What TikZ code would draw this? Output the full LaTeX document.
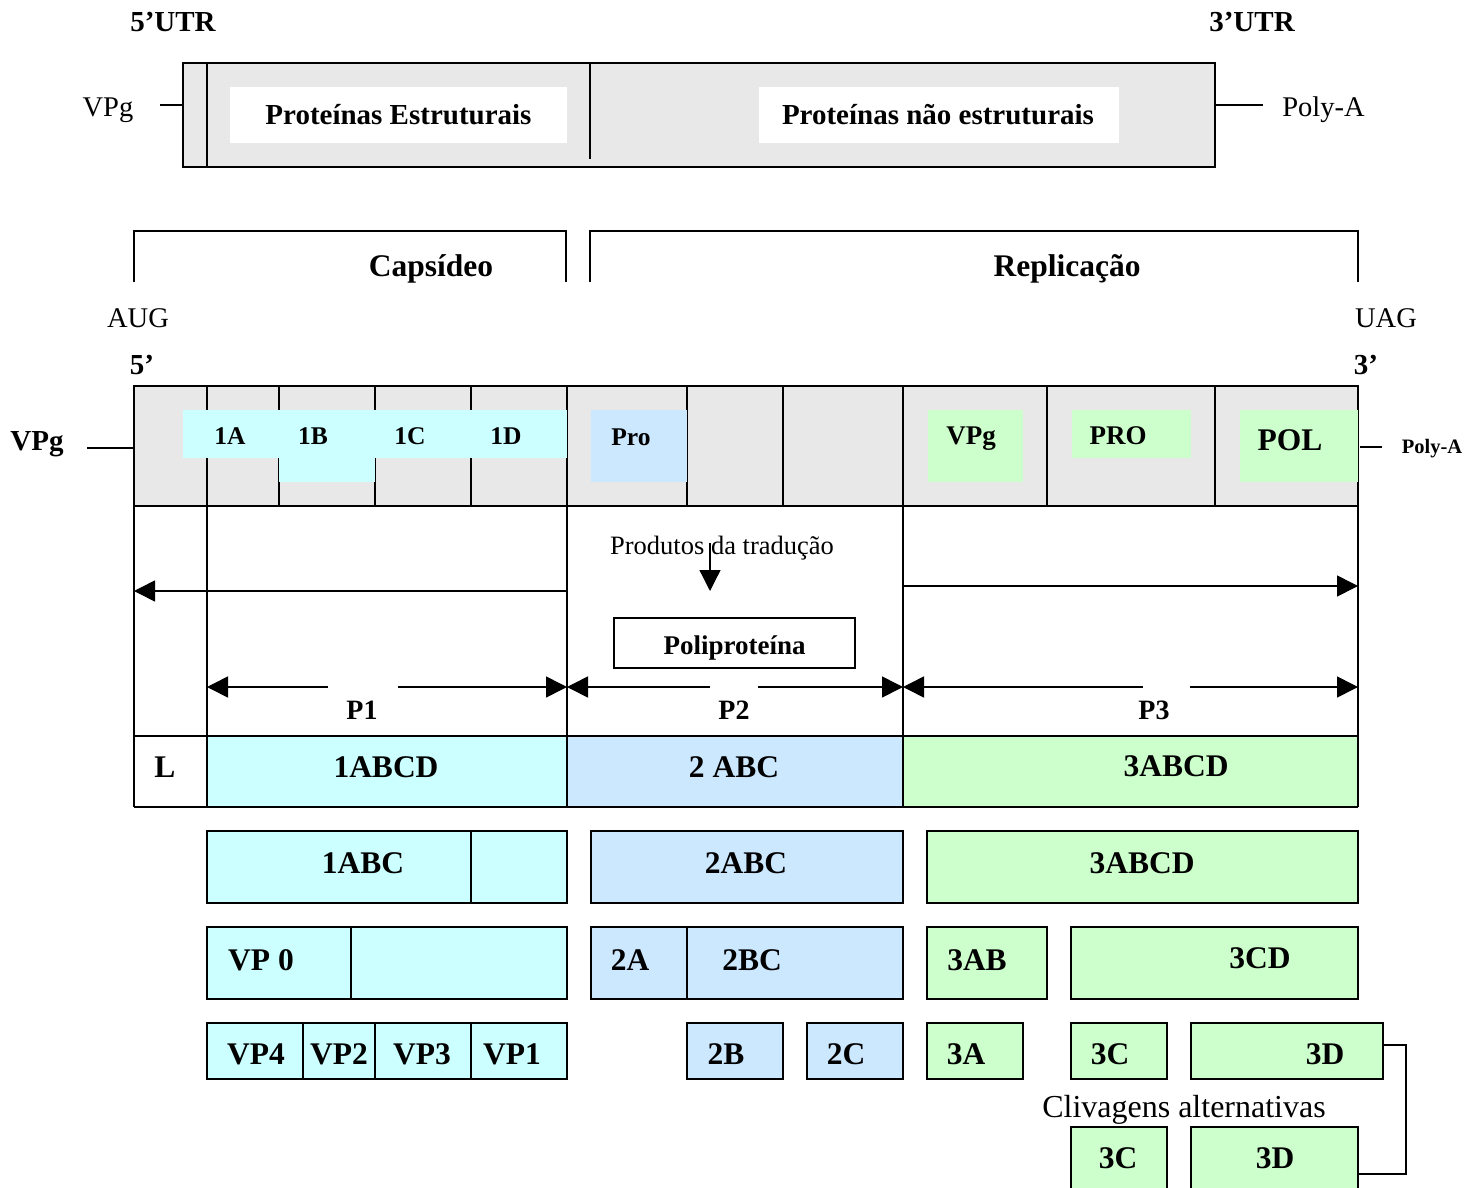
\documentclass[tikz,border=0pt]{standalone}
\usepackage{fontspec}
\setmainfont{Liberation Serif}
\usetikzlibrary{arrows.meta}
\definecolor{gbg}{HTML}{E8E8E8}
\definecolor{cy}{HTML}{CCFFFF}
\definecolor{lb}{HTML}{CCE8FF}
\definecolor{gr}{HTML}{CCFFCC}
\begin{document}
\begin{tikzpicture}[x=1pt,y=-1pt,line width=1.6pt,
  nt/.style={inner sep=0pt,anchor=base,font=\fontsize{28.5}{32}\selectfont},
  bt/.style={inner sep=0pt,anchor=base,font=\fontsize{29}{32}\selectfont\bfseries},
  bigt/.style={inner sep=0pt,anchor=base,font=\fontsize{31.5}{34}\selectfont\bfseries},
  midt/.style={inner sep=0pt,anchor=base,font=\fontsize{27}{30}\selectfont\bfseries},
  smt/.style={inner sep=0pt,anchor=base,font=\fontsize{25.5}{28}\selectfont\bfseries},
  tinyt/.style={inner sep=0pt,anchor=base,font=\fontsize{20.5}{23}\selectfont\bfseries},
  tipped/.style={-{Triangle[length=21pt,width=21pt]}},
  thin/.style={line width=1.3pt}]
\useasboundingbox (0,0) rectangle (1478,1188);
\fill[white] (0,0) rectangle (1478,1188);

% ---------- top genome ----------
\node[bt] (utr5) at (173,31.5) {5’UTR};
\node[bt] (utr3) at (1252,31.5) {3’UTR};
\draw[fill=gbg] (183,63) rectangle (1215,167);
\draw[thin] (207,63) -- (207,167);
\draw[thin] (590,63) -- (590,159);
\fill[white] (230,87) rectangle (567,143);
\fill[white] (759,87) rectangle (1119,143);
\node[bt] (pe) at (398.5,125) {Proteínas Estruturais};
\node[bt] (pne) at (938,125) {Proteínas não estruturais};
\node[nt] (vpgtop) at (108,117) {VPg};
\node[nt] (polyatop) at (1323.5,117) {Poly-A};
\coordinate (vpgtopend) at (160,105);
\coordinate (topL) at (183,105);
\coordinate (polytopend) at (1263,105);
\coordinate (topR) at (1215,105);
\draw (vpgtopend) -- (topL);
\draw (topR) -- (polytopend);

% ---------- brackets ----------
\draw (134,282) -- (134,231) -- (566,231) -- (566,282);
\draw (590,282) -- (590,231) -- (1358,231) -- (1358,282);
\node[bigt] (caps) at (431,276) {Capsídeo};
\node[bigt] (repl) at (1067,276) {Replicação};
\node[nt] (aug) at (138,327) {AUG};
\node[nt] (uag) at (1386,327) {UAG};
\node[bt] (five) at (142,374) {5’};
\node[bt] (three) at (1366,374) {3’};

% ---------- main genome bar ----------
\fill[gbg] (134,386) rectangle (1358,506);
\foreach \x in {207,279,375,471,567,687,783,903,1047,1215}
  \draw[thin] (\x,386) -- (\x,506);
\draw (134,386) rectangle (1358,506);
\fill[cy] (183,410) rectangle (567,458);
\fill[cy] (279,410) rectangle (375,482);
\fill[lb] (591,410) rectangle (687,482);
\fill[gr] (928,410) rectangle (1023,482);
\fill[gr] (1072,410) rectangle (1191,458);
\fill[gr] (1240,410) rectangle (1358,482);
\node[smt] (g1a) at (230,444) {1A};
\node[smt] (g1b) at (313,444) {1B};
\node[smt] (g1c) at (410,444) {1C};
\node[smt] (g1d) at (506,444) {1D};
\node[smt] (gpro) at (631,445) {Pro};
\node[midt] (gvpg) at (971,444) {VPg};
\node[midt] (gPRO) at (1118,444) {PRO};
\node[bigt] (gpol) at (1290,450) {POL};
\node[bt] (vpgleft) at (37,450) {VPg};
\node[tinyt] (polyasm) at (1432,453) {Poly-A};
\coordinate (vpgLend) at (87,448);
\coordinate (barL) at (134,448);
\coordinate (barR) at (1360,447);
\coordinate (polyLend) at (1382,447);
\draw[thin] (vpgLend) -- (barL);
\draw[thin] (barR) -- (polyLend);

% ---------- lower table ----------
\fill[cy] (207,736) rectangle (567,807);
\fill[lb] (567,736) rectangle (903,807);
\fill[gr] (903,736) rectangle (1358,807);
\foreach \x in {134,207,567,903,1358}
  \draw (\x,506) -- (\x,807);
\draw (134,736) -- (1358,736);
\draw (134,807) -- (1358,807);
\node[bigt] (cL) at (165,777) {L};
\node[bigt] (c1abcd) at (386,777) {1ABCD};
\node[bigt] (c2abc) at (734,777) {2 ABC};
\node[bigt] (c3abcd) at (1176,776) {3ABCD};

\node[nt,font=\fontsize{26.5}{30}\selectfont] (prod) at (722,554) {Produtos da tradução};
\coordinate (prodtop) at (710,543);
\coordinate (prodtip) at (710,591);
\draw[thin,tipped] (prodtop) -- (prodtip);

\coordinate (la) at (567,591);
\coordinate (lb) at (134,591);
\draw[tipped] (la) -- (lb);
\coordinate (ra) at (903,586);
\coordinate (rb) at (1358,586);
\draw[tipped] (ra) -- (rb);

\draw (614,618) rectangle (855,668);
\node[midt] (poly) at (734.5,654) {Poliproteína};

\coordinate (p1a) at (207,687); \coordinate (p1g1) at (328,687);
\coordinate (p1g2) at (398,687); \coordinate (p1b) at (567,687);
\coordinate (p2g1) at (710,687); \coordinate (p2g2) at (758,687);
\coordinate (p2b) at (903,687);
\coordinate (p3g1) at (1143,687); \coordinate (p3g2) at (1190,687);
\coordinate (p3b) at (1358,687);
\draw[tipped] (p1g1) -- (p1a);
\draw[tipped] (p1g2) -- (p1b);
\draw[tipped] (p2g1) -- (p1b);
\draw[tipped] (p2g2) -- (p2b);
\draw[tipped] (p3g1) -- (p2b);
\draw[tipped] (p3g2) -- (p3b);
\node[midt,font=\fontsize{28}{30}\selectfont\bfseries] (lp1) at (362,719) {P1};
\node[midt,font=\fontsize{28}{30}\selectfont\bfseries] (lp2) at (734,719) {P2};
\node[midt,font=\fontsize{28}{30}\selectfont\bfseries] (lp3) at (1154,719) {P3};

% ---------- row 2 ----------
\draw[fill=cy] (207,831) rectangle (567,903);
\draw[thin] (471,831) -- (471,903);
\draw[fill=lb] (591,831) rectangle (903,903);
\draw[fill=gr] (927,831) rectangle (1358,903);
\node[bigt] (r1abc) at (363,873) {1ABC};
\node[bigt] (r2abc) at (746,873) {2ABC};
\node[bigt] (r3abcd) at (1142,873) {3ABCD};

% ---------- row 3 ----------
\draw[fill=cy] (207,927) rectangle (567,999);
\draw[thin] (351,927) -- (351,999);
\draw[fill=lb] (591,927) rectangle (903,999);
\draw[thin] (687,927) -- (687,999);
\draw[fill=gr] (927,927) rectangle (1047,999);
\draw[fill=gr] (1071,927) rectangle (1358,999);
\node[bigt] (rvp0) at (261,970) {VP 0};
\node[bigt] (r2a) at (630,970) {2A};
\node[bigt] (r2bc) at (752,970) {2BC};
\node[bigt] (r3ab) at (977,970) {3AB};
\node[bigt] (r3cd) at (1260,968) {3CD};

% ---------- row 4 ----------
\draw[fill=cy] (207,1023) rectangle (567,1079);
\foreach \x in {303,375,471} \draw[thin] (\x,1023) -- (\x,1079);
\draw[fill=lb] (687,1023) rectangle (783,1079);
\draw[fill=lb] (807,1023) rectangle (903,1079);
\draw[fill=gr] (927,1023) rectangle (1023,1079);
\draw[fill=gr] (1071,1023) rectangle (1167,1079);
\draw[fill=gr] (1191,1023) rectangle (1383,1079);
\node[bigt] (rvp4) at (256,1064) {VP4};
\node[bigt] (rvp2) at (339,1064) {VP2};
\node[bigt] (rvp3) at (422,1064) {VP3};
\node[bigt] (rvp1) at (512,1064) {VP1};
\node[bigt] (r2b) at (726,1064) {2B};
\node[bigt] (r2c) at (846,1064) {2C};
\node[bigt] (r3a) at (966,1064) {3A};
\node[bigt] (r3c) at (1110,1064) {3C};
\node[bigt] (r3d) at (1325,1064) {3D};

\node[nt,font=\fontsize{32}{34}\selectfont] (cliv) at (1184,1117) {Clivagens alternativas};

% ---------- row 5 ----------
\draw[fill=gr] (1071,1127) rectangle (1167,1200);
\draw[fill=gr] (1191,1127) rectangle (1358,1200);
\node[bigt] (s3c) at (1118,1168) {3C};
\node[bigt] (s3d) at (1275,1168) {3D};
\coordinate (c1) at (1383,1045);
\coordinate (c2) at (1358,1174);
\draw[thin] (c1) -- (1406,1045) -- (1406,1174) -- (c2);
\end{tikzpicture}
\end{document}
